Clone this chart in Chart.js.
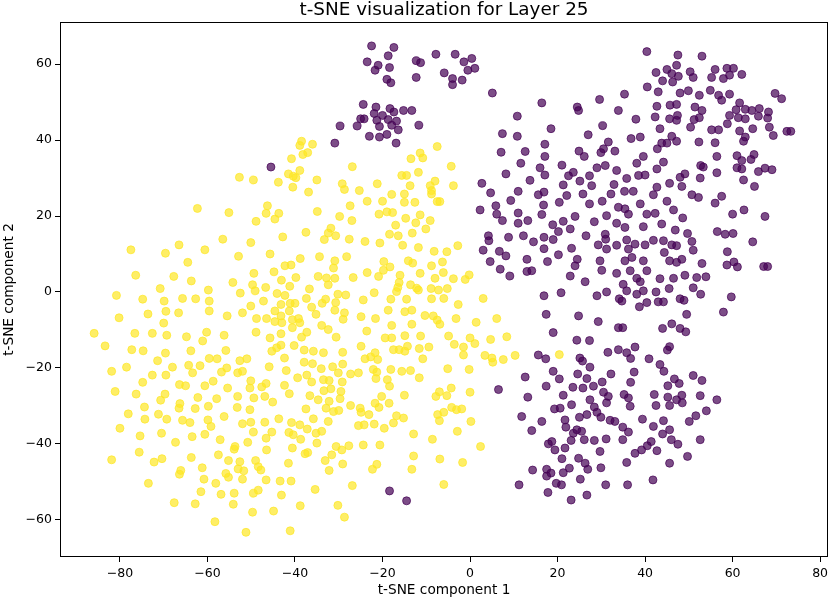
<!DOCTYPE html>
<html lang="en">
<head>
<meta charset="UTF-8">
<title>t-SNE visualization for Layer 25</title>
<script src="https://cdn.jsdelivr.net/npm/chart.js@4"></script>
<style>
  body { margin: 0; background: #fff; }
  canvas { display: block; }
</style>
</head>
<body>
<canvas id="tsneChart" width="830" height="599"></canvas>
<script>
// t-SNE points, [component 1, component 2]
// label 0 (purple)
const purpleTop = [
  [-22.5,64.8],[-17.4,64.4],[-23.5,60.6],[-18.7,62.2],[-21.0,59.7],[-21.7,58.4],[-18.4,59.1],[-19.0,56.0],
  [-18.1,55.1],[-12.3,60.9],[-11.3,60.4],[-12.3,56.5],[-7.8,62.6],[-3.4,62.6],[-1.4,60.6],[0.4,61.5],
  [1.1,58.9],[-0.5,58.4],[-5.9,57.7],[-4.0,56.2],[-4.0,54.6],[-1.8,55.8],[5.1,52.4],[-24.4,49.4],
  [-21.5,48.7],[-21.9,47.0],[-20.0,46.5],[-18.3,48.3],[-17.4,47.4],[-15.2,47.8],[-13.3,47.8],[-25.0,45.6],
  [-24.2,45.6],[-21.3,45.2],[-18.7,45.4],[-16.8,45.0],[-25.8,43.7],[-20.7,43.6],[-17.9,43.9],[-16.4,42.7],
  [-11.7,43.9],[-29.7,43.7],[-23.0,41.0],[-20.7,40.8],[-19.0,41.5],[-16.9,39.2],[10.8,46.3],[7.4,41.7],
  [10.8,41.0],[-45.5,32.9],[-30.9,39.2],[-18.4,-52.4],[-14.5,-55.0]
];
const purpleUpper = [
  [40.4,63.3],[40.5,54.0],[16.4,49.8],[24.5,48.7],[24.8,47.8],[29.6,50.7],[35.3,52.1],[33.9,47.8],
  [37.9,45.5],[18.5,43.0],[30.3,43.8],[27.0,41.4],[36.8,40.4],[38.9,40.8],[17.1,38.9],[31.6,39.5],
  [30.5,37.7],[29.9,36.7],[33.1,37.1],[24.9,37.1],[26.1,35.7],[7.1,36.8],[12.6,37.0],[17.1,35.7],
  [39.6,35.7],[11.6,33.9],[38.1,33.9],[16.0,32.7],[21.0,33.4],[29.0,32.7],[30.9,33.3],[33.5,32.0],
  [8.2,31.1],[17.1,30.8],[23.6,31.5],[22.5,30.6],[27.3,30.6],[27.8,28.0],[35.8,29.9],[38.5,30.7],
  [40.0,30.8],[13.7,29.4],[21.3,28.2],[25.1,29.2],[32.9,28.3],[2.7,28.6],[4.7,26.1],[11.0,26.5],
  [15.6,25.6],[16.9,26.3],[22.1,25.4],[25.8,25.8],[32.2,25.8],[35.3,26.5],[37.3,26.5],[9.3,24.1],
  [20.4,23.6],[27.3,23.2],[30.2,23.9],[33.9,22.3],[38.9,23.2],[2.3,21.6],[5.9,22.7],[16.8,22.9],
  [6.1,20.5],[7.4,18.8],[11.0,20.8],[16.4,20.4],[13.2,18.8],[11.0,18.1],[18.9,17.7],[21.3,18.6],
  [24.0,19.9],[28.4,18.5],[31.2,20.1],[35.4,21.9],[36.2,20.5],[40.4,20.5],[33.5,18.1],[35.4,17.0],
  [39.6,17.2],[4.2,14.8],[4.3,13.5],[8.8,14.4],[12.2,14.8],[14.5,13.2],[16.9,14.4],[19.0,13.8],
  [20.2,15.9],[22.9,16.6],[26.5,14.8],[30.9,15.2],[31.0,13.9],[29.3,12.4],[31.2,11.3],[33.5,12.3],
  [35.8,13.7],[37.7,12.6],[40.0,12.4],[3.0,11.0],[6.7,10.7],[8.2,9.5],[16.9,11.4],[23.2,11.5],
  [4.6,8.0],[13.0,8.6],[20.2,9.8],[24.5,8.6],[29.7,8.2],[36.2,11.3],[37.0,9.1],[35.4,8.2],
  [39.6,8.2],[6.9,6.0],[9.1,4.2],[13.0,5.4],[14.1,5.6],[17.7,8.0],[24.0,6.9],[22.9,4.2],
  [30.1,5.7],[33.5,4.9],[36.6,5.6],[40.4,5.6],[26.3,2.7],[35.0,2.0],[38.1,3.6],[38.9,2.7],
  [47.5,62.4],[53.0,62.1],[47.2,59.7],[42.5,57.8],[45.0,58.6],[46.1,57.5],[47.6,56.8],[50.3,58.0],
  [51.0,56.5],[55.2,56.5],[56.0,58.6],[58.7,58.9],[60.2,58.9],[57.9,56.2],[59.3,57.1],[62.1,57.3],
  [44.0,55.6],[46.3,55.3],[43.0,52.7],[48.0,52.4],[49.9,53.0],[52.4,51.8],[54.9,53.1],[56.8,51.8],
  [57.5,50.5],[59.3,52.1],[69.7,52.3],[71.2,50.9],[42.7,48.9],[45.7,49.2],[47.2,49.4],[51.4,48.7],
  [53.0,47.8],[61.6,49.8],[60.8,48.0],[62.9,48.1],[64.4,47.8],[66.1,48.3],[68.2,47.4],[42.3,46.1],
  [45.6,45.6],[47.4,46.5],[47.2,45.2],[51.2,45.4],[52.4,45.9],[59.3,46.5],[58.8,44.3],[61.3,45.9],
  [62.9,45.6],[65.9,46.3],[68.0,45.8],[43.4,43.0],[50.4,43.4],[55.2,42.7],[56.8,42.7],[61.6,42.4],
  [64.6,43.0],[68.4,43.4],[72.4,42.3],[73.3,42.3],[69.3,41.2],[46.1,41.0],[47.2,39.7],[43.8,39.2],
  [62.9,40.8],[62.5,39.7],[42.8,37.7],[45.0,39.2],[52.3,39.5],[56.0,39.3],[56.4,35.7],[61.0,35.9],
  [62.1,34.6],[64.9,36.2],[64.2,34.9],[44.2,34.2],[42.7,32.4],[52.7,33.3],[53.3,32.9],[61.0,32.7],
  [62.1,32.4],[65.9,31.7],[67.4,32.6],[69.0,32.2],[48.0,30.2],[49.1,31.1],[52.6,30.0],[56.4,31.4],
  [62.5,29.5],[45.6,28.6],[48.4,27.8],[65.0,27.8],[42.7,27.6],[41.9,25.6],[50.7,25.6],[52.2,24.9],
  [57.5,25.2],[56.0,23.4],[45.0,23.9],[60.0,20.5],[62.6,21.6],[67.4,19.9],[42.3,20.7],[43.8,17.9],
  [46.5,21.6],[48.6,19.5],[46.9,16.3],[49.7,15.4],[56.5,15.9],[58.3,15.2],[60.1,15.4],[64.6,13.2],
  [41.9,13.6],[44.2,13.5],[46.1,12.4],[47.2,12.2],[50.7,13.3],[51.0,11.0],[44.4,10.4],[58.8,10.6],
  [45.6,8.2],[47.2,7.8],[48.4,8.6],[53.0,7.5],[58.7,7.1],[60.3,7.9],[61.1,6.6],[67.1,6.7],
  [68.0,6.7],[43.4,3.5],[46.5,3.6],[49.1,4.4],[51.8,3.8],[53.9,4.0]
];
const purpleLower = [
  [16.9,-1.0],[20.8,-0.2],[29.0,-1.0],[31.2,0.0],[34.1,-1.8],[34.7,-2.4],[35.8,0.3],[38.1,-0.6],
  [38.7,-3.9],[17.4,-5.9],[24.8,-6.3],[29.3,-7.8],[33.9,-9.4],[34.9,-9.4],[19.0,-10.7],[24.4,-12.7],
  [27.3,-12.8],[15.6,-16.6],[17.3,-17.6],[25.1,-17.4],[25.7,-18.2],[27.4,-19.8],[31.5,-15.9],[33.9,-15.2],
  [35.8,-16.0],[36.7,-17.5],[37.7,-14.5],[12.6,-22.4],[19.0,-20.9],[20.4,-22.9],[24.6,-21.6],[26.7,-22.8],
  [32.2,-21.6],[37.5,-21.1],[6.5,-25.7],[17.4,-24.8],[23.5,-25.1],[25.8,-25.3],[28.2,-24.8],[30.2,-23.7],
  [36.7,-23.8],[13.2,-27.7],[21.3,-27.2],[27.4,-28.4],[30.5,-26.4],[31.6,-27.5],[31.2,-29.2],[35.2,-27.0],
  [36.2,-27.9],[36.6,-30.1],[19.3,-30.8],[20.6,-30.6],[23.2,-29.7],[28.4,-30.3],[29.0,-31.7],[11.8,-32.8],
  [16.4,-34.1],[21.7,-33.7],[25.0,-33.0],[26.7,-32.3],[29.9,-33.0],[32.0,-33.8],[33.1,-34.1],[34.9,-35.6],
  [36.2,-36.9],[14.1,-36.5],[21.9,-35.6],[23.6,-37.2],[24.4,-36.3],[25.5,-36.7],[26.1,-38.9],[23.1,-39.1],
  [28.4,-39.1],[31.1,-38.7],[34.9,-38.9],[17.9,-40.0],[18.7,-39.4],[19.4,-41.6],[21.7,-41.1],[21.0,-43.9],
  [24.8,-43.8],[26.3,-45.1],[29.7,-42.0],[35.8,-44.9],[37.7,-42.5],[14.3,-46.9],[17.5,-46.7],[18.5,-47.7],
  [21.3,-47.6],[22.7,-46.4],[26.9,-46.7],[29.9,-46.3],[17.5,-48.5],[19.7,-50.4],[20.9,-50.8],[25.2,-49.3],
  [11.2,-50.8],[17.8,-52.8],[23.1,-54.8],[26.7,-53.5],[31.0,-50.8],[36.0,-50.8],
  [39.6,0.3],[42.5,0.0],[45.5,0.9],[51.0,1.1],[52.7,-0.6],[59.7,-1.3],[40.4,-2.8],[43.0,-2.6],
  [44.2,-2.6],[48.0,-1.8],[48.9,-2.2],[49.5,-5.9],[57.9,-5.3],[44.0,-9.6],[46.1,-8.4],[48.0,-9.6],
  [49.3,-10.5],[45.6,-14.4],[45.1,-15.3],[40.9,-17.6],[43.4,-19.1],[44.3,-20.9],[46.7,-22.9],[47.8,-24.1],
  [45.2,-24.7],[51.0,-22.0],[53.0,-23.3],[42.1,-27.0],[45.2,-27.7],[47.2,-28.4],[48.4,-27.2],[48.5,-29.2],
  [45.6,-29.9],[42.5,-29.9],[52.6,-27.3],[56.4,-28.4],[54.0,-31.3],[51.6,-32.6],[50.1,-34.1],[39.4,-33.5],
  [44.2,-33.9],[41.9,-35.4],[45.6,-36.3],[44.0,-37.4],[46.0,-38.9],[47.5,-40.1],[52.6,-38.9],[41.4,-39.4],
  [40.5,-40.5],[39.2,-41.6],[42.7,-41.8],[49.7,-43.3],[45.6,-45.1],[41.8,-49.5]
];
// label 1 (yellow)
const yellowLeft = [
  [-62.3,22.0],[-77.5,11.1],[-69.6,10.2],[-66.5,12.4],[-60.6,11.1],[-64.5,7.8],[-76.4,4.4],[-67.7,4.1],
  [-63.7,2.9],[-70.8,0.9],[-59.8,0.5],[-80.8,-0.9],[-74.8,-1.9],[-69.9,-2.4],[-65.7,-1.7],[-62.7,-1.8],
  [-59.6,-2.4],[-80.2,-6.8],[-73.6,-5.8],[-69.5,-5.1],[-66.6,-5.5],[-59.6,-5.0],[-70.0,-8.2],[-85.9,-10.9],
  [-76.6,-10.9],[-72.6,-10.9],[-69.3,-11.4],[-64.8,-11.8],[-60.2,-10.6],[-61.1,-12.9],[-83.4,-14.2],[-77.3,-15.2],
  [-74.7,-15.5],[-69.6,-16.1],[-63.8,-15.5],[-59.6,-17.5],[-71.4,-18.1],[-68.0,-19.8],[-64.3,-19.3],[-61.7,-19.4],
  [-81.9,-20.9],[-78.5,-19.8],[-72.6,-21.9],[-69.5,-21.9],[-63.4,-21.3],
  [-74.8,-23.8],[-81.1,-26.2],[-76.3,-26.9],[-69.7,-26.9],[-70.7,-28.5],[-66.4,-24.4],[-65.0,-24.7],[-60.6,-24.7],
  [-62.2,-27.8],[-74.4,-30.3],[-66.3,-29.4],[-66.5,-30.6],[-62.8,-30.7],[-59.8,-30.1],[-78.1,-32.1],[-71.2,-32.2],
  [-74.3,-33.5],[-69.3,-33.5],[-65.7,-33.8],[-64.0,-34.4],[-59.9,-33.7],[-80.0,-35.9],[-75.4,-37.9],[-70.5,-37.2],
  [-67.3,-39.6],[-63.5,-38.1],[-60.6,-37.5],[-75.6,-42.2],[-81.9,-44.2],[-72.2,-44.8],[-70.4,-43.9],[-63.7,-43.6],
  [-66.1,-47.0],[-66.4,-48.0],[-61.2,-46.3],[-60.8,-49.3],[-73.5,-50.4],[-61.5,-52.6],[-67.6,-55.5],[-62.8,-55.8]
];
const yellowCenter = [
  [-38.5,39.7],[-38.9,38.6],[-36.0,38.9],[-38.2,36.2],[-37.1,36.7],[-40.8,35.1],[-52.7,30.2],[-49.5,29.5],
  [-43.8,28.9],[-41.5,31.1],[-40.4,30.5],[-39.8,30.1],[-38.9,32.0],[-40.5,27.6],[-35.0,29.5],[-36.9,26.3],
  [-26.9,33.0],[-29.2,28.5],[-28.7,27.0],[-55.1,20.9],[-46.3,22.7],[-46.6,20.7],[-43.7,20.7],[-44.6,19.2],
  [-48.9,18.6],[-34.9,21.2],[-29.8,19.9],[-27.4,22.7],[-27.0,18.8],[-56.5,13.9],[-50.1,13.0],[-42.8,14.5],
  [-37.5,15.7],[-31.8,16.8],[-32.4,15.5],[-30.7,14.8],[-33.3,13.8],[-27.6,13.9],[-52.9,9.4],[-45.7,10.0],
  [-38.8,8.8],[-34.4,9.3],[-30.9,8.2],[-28.2,9.3],[-49.4,4.9],[-44.8,5.3],[-42.3,6.9],[-40.9,7.1],
  [-39.8,3.8],[-43.1,3.1],[-31.2,6.3],[-34.7,4.1],[-32.8,3.7],[-30.9,3.6],[-26.7,3.8],[-54.2,2.5],
  [-49.7,1.9],[-49.1,0.3],[-46.7,1.2],[-41.2,1.5],[-36.7,0.8],[-32.4,1.9],[-52.5,-0.3],[-44.1,-0.4],
  [-42.3,-0.9],[-37.4,-1.7],[-47.2,-2.4],[-43.2,-3.3],[-41.1,-3.0],[-40.0,-3.0],[-33.8,-3.0],[-33.0,-1.9],
  [-30.7,-2.8],[-30.2,-0.6],[-28.4,-0.8],[-50.1,-3.7],[-52.0,-5.5],[-44.6,-5.0],[-41.3,-5.0],[-36.2,-4.0],
  [-35.2,-5.9],[-30.9,-4.8],[-28.7,-5.5],[-55.5,-6.3],[-48.8,-7.0],[-46.5,-7.0],[-44.6,-7.8],[-43.2,-6.3],
  [-43.0,-8.1],[-40.6,-7.3],[-39.2,-7.0],[-38.9,-8.1],[-40.6,-9.4],[-29.0,-7.2],[-33.9,-8.8],[-32.4,-9.9],
  [-56.2,-11.4],[-48.9,-10.6],[-43.2,-11.0],[-37.3,-10.6],[-38.5,-11.9],[-30.6,-11.9],[-45.7,-12.1],
  [-55.8,-15.4],[-57.8,-17.6],[-52.6,-18.1],[-51.0,-17.6],[-56.8,-21.1],[-55.6,-20.0],[-53.1,-21.3],[-52.0,-20.9],
  [-58.7,-23.5],[-55.4,-25.3],[-50.1,-23.4],[-50.3,-25.3],[-47.6,-25.0],[-46.6,-24.1],[-57.9,-28.1],[-53.1,-27.5],
  [-49.4,-27.9],[-46.9,-27.5],[-45.1,-29.0],[-53.2,-30.4],[-50.3,-31.0],[-56.2,-32.8],[-59.2,-35.4],[-52.0,-34.7],
  [-50.1,-34.3],[-46.9,-34.3],[-43.7,-33.4],[-49.5,-36.9],[-45.3,-36.9],[-46.6,-38.5],[-57.1,-38.9],[-50.8,-39.6],
  [-53.7,-40.7],[-53.9,-41.4],[-46.5,-41.6],[-57.5,-42.9],[-55.2,-44.4],[-52.6,-44.7],[-49.0,-44.4],[-48.4,-46.0],
  [-47.8,-46.9],[-53.0,-46.6],[-51.7,-47.1],[-55.8,-47.8],[-55.2,-48.8],[-52.0,-49.3],[-58.1,-50.4],[-46.6,-49.5],
  [-43.4,-49.8],[-40.9,-49.8],[-56.9,-53.3],[-53.9,-53.0],[-49.5,-53.0],[-48.4,-52.2],[-43.1,-53.5],[-54.1,-55.9],
  [-49.7,-58.0],[-44.9,-57.7],[-38.8,-56.3],[-58.3,-60.5],[-51.2,-63.3],[-41.1,-62.9],[-35.4,-52.0],[-30.2,-56.2],
  [-28.7,-59.3],[-26.9,-51.0],[-45.9,-19.7],[-42.0,-20.7],[-42.4,-17.4],[-45.3,-15.6],[-44.2,-14.7],[-43.2,-14.0],
  [-40.2,-14.1],[-37.9,-15.3],[-35.8,-15.6],[-33.5,-16.0],[-29.1,-15.9],[-37.9,-18.5],[-36.0,-18.9],[-34.0,-20.2],
  [-31.4,-19.7],[-29.1,-19.0],[-30.1,-21.3],[-27.3,-21.6],[-39.4,-22.6],[-37.3,-21.9],[-36.2,-23.7],[-33.5,-23.1],
  [-32.2,-23.3],[-29.2,-23.7],[-42.4,-24.6],[-41.3,-26.8],[-33.4,-26.0],[-31.8,-25.5],[-29.5,-26.2],[-36.6,-27.3],
  [-34.7,-28.4],[-32.2,-28.8],[-29.7,-28.1],[-37.5,-30.8],[-32.9,-30.6],[-31.2,-31.5],[-30.0,-31.2],[-27.3,-29.9],
  [-35.8,-33.4],[-32.4,-34.1],[-40.8,-34.4],[-38.9,-35.0],[-37.2,-36.1],[-41.4,-37.0],[-40.4,-37.6],[-38.7,-38.8],
  [-35.2,-37.2],[-33.9,-36.7],[-35.0,-39.8],[-40.6,-41.1],[-37.7,-42.6],[-37.1,-42.3],[-30.6,-40.7],[-29.3,-41.6],
  [-27.7,-40.5],[-33.1,-44.4],[-31.6,-42.9],[-29.1,-45.3],[-32.2,-47.0],[-41.5,-45.1]
];
const yellowRight = [
  [-7.5,38.3],[-11.4,36.6],[-13.5,35.1],[-10.8,35.3],[-4.3,33.1],[-15.6,30.7],[-14.5,30.7],[-11.8,31.5],
  [-21.2,28.5],[-13.7,28.0],[-9.1,28.0],[-8.0,29.2],[-3.8,28.0],[-25.3,26.7],[-17.9,25.7],[-15.0,25.8],
  [-8.8,26.7],[-8.8,25.8],[-23.5,23.9],[-20.0,23.9],[-15.0,23.6],[-12.6,23.6],[-7.5,23.8],[-6.9,23.8],
  [-20.8,20.5],[-19.0,21.1],[-17.7,20.9],[-14.7,19.4],[-11.4,20.3],[-17.0,17.6],[-12.4,18.2],[-9.1,18.8],
  [-10.1,16.6],[-18.4,15.2],[-16.4,14.8],[-13.2,15.5],[-24.0,13.3],[-20.6,12.9],[-15.4,12.3],[-11.8,11.7],
  [-8.2,10.7],[-5.3,10.6],[-2.8,12.2],[-19.7,8.0],[-18.3,6.6],[-19.8,5.7],[-14.1,8.2],[-13.1,7.6],
  [-8.8,6.9],[-6.3,7.9],[-11.4,4.9],[-6.1,5.1],[-23.5,5.1],[-20.9,4.1],[-16.0,4.4],[-16.2,2.5],
  [-16.5,1.2],[-8.0,3.6],[-3.8,3.5],[-1.1,3.3],[-0.2,4.5],[-13.6,1.9],[-11.8,0.5],[-12.2,1.0],
  [-8.9,0.9],[-7.2,0.5],[-5.2,0.9],[-21.9,-0.2],[-16.8,0.1],[-24.4,-2.1],[-18.1,-1.9],[-14.5,-1.9],
  [-8.8,-1.8],[-6.0,-1.7],[-2.7,-3.3],[-18.7,-4.8],[-14.9,-5.2],[-13.3,-4.8],[-10.3,-6.2],[-8.4,-6.3],
  [-7.5,-7.4],[-3.2,-7.0],[1.4,-8.0],[-24.9,-6.5],[-21.6,-7.0],[-17.9,-8.8],[-13.3,-8.5],[-6.9,-8.5],
  [-23.6,-10.3],[-19.4,-12.1],[-17.9,-12.1],[-14.9,-11.5],[-11.3,-11.6],[-4.9,-11.6],[0.0,-12.1],
  [-24.9,-14.3],[-17.5,-15.2],[-16.2,-15.2],[-14.9,-15.6],[-14.3,-14.3],[-11.6,-14.9],[-9.4,-14.5],[-3.6,-13.8],
  [-1.5,-14.5],[1.1,-13.6],[-1.5,-16.6],[-24.0,-17.6],[-22.7,-17.1],[-21.7,-16.0],[-21.1,-17.8],[-10.8,-17.6],
  [-25.5,-21.3],[-22.1,-20.4],[-21.3,-21.1],[-21.5,-22.8],[-18.1,-20.4],[-15.6,-20.9],[-13.6,-20.7],[-11.6,-22.6],
  [-5.1,-20.2],[-0.2,-20.4],[-18.9,-23.1],[-18.4,-24.8],[-15.0,-27.2],[-20.2,-27.5],[-7.0,-26.3],[-7.8,-27.5],
  [-5.3,-27.3],[-4.3,-25.3],[0.0,-26.4],[-25.1,-30.6],[-24.9,-31.7],[-21.7,-29.3],[-20.8,-30.4],[-18.5,-29.3],
  [-23.1,-32.3],[-25.5,-35.2],[-24.2,-35.0],[-21.9,-34.8],[-19.6,-35.9],[-17.5,-34.5],[-16.8,-32.6],[-15.2,-33.2],
  [-7.4,-32.3],[-7.0,-33.9],[-6.0,-31.7],[-4.2,-30.4],[-3.1,-31.0],[-1.9,-30.8],[0.2,-34.1],[-2.9,-36.7],
  [-12.9,-37.4],[-8.6,-38.8],[-24.4,-40.3],[-20.6,-40.3],[-12.9,-43.2],[-6.9,-44.0],[-1.7,-44.9],[-21.3,-45.4],
  [-22.3,-46.7],[-13.3,-46.7],[-6.0,-50.7],
  [3.0,-1.7],[6.1,-7.0],[8.4,-11.8],[4.7,-12.5],[3.4,-16.7],[5.0,-17.4],[5.2,-18.5],[7.6,-17.8],
  [10.3,-16.7],[20.4,-16.5],[2.4,-40.7]
];

const chartTitle = 't-SNE visualization for Layer 25';
const xTicks = [-80, -60, -40, -20, 0, 20, 40, 60, 80];
const yTicks = [-60, -40, -20, 0, 20, 40, 60];
const xTickLabels = ['\u221280', '\u221260', '\u221240', '\u221220', '0', '20', '40', '60', '80'];
const yTickLabels = ['\u221260', '\u221240', '\u221220', '0', '20', '40', '60'];

const toPoints = pairs => pairs.map(p => ({ x: p[0], y: p[1] }));

// matplotlib-like frame, and the title centred over the axes (not the canvas)
const framePlugin = {
    id: 'frame',
    afterDraw(chart) {
        const { ctx, chartArea: a } = chart;
        ctx.save();
        ctx.strokeStyle = '#000';
        ctx.lineWidth = 1;
        ctx.strokeRect(Math.round(a.left) + 0.5, Math.round(a.top) + 0.5,
            Math.round(a.right - a.left) - 1, Math.round(a.bottom - a.top) - 1);
        ctx.fillStyle = '#000';
        ctx.font = '18.4px "DejaVu Sans", sans-serif';
        ctx.textAlign = 'center';
        ctx.textBaseline = 'middle';
        ctx.fillText(chartTitle, (a.left + a.right) / 2, 10.5);
        ctx.restore();
    }
};

Chart.defaults.font.family = '"DejaVu Sans", sans-serif';
Chart.defaults.color = '#000';

const axisGrid = {
    display: true,
    drawOnChartArea: false,
    drawTicks: true,
    tickLength: 5,
    tickColor: '#000',
    tickWidth: 1
};

new Chart(document.getElementById('tsneChart'), {
    type: 'scatter',
    data: {
        datasets: [
            {
                label: '0',
                data: toPoints([].concat(purpleTop, purpleUpper, purpleLower)),
                backgroundColor: 'rgba(68, 1, 84, 0.7)',
                borderColor: 'rgba(68, 1, 84, 0.7)',
                borderWidth: 1,
                pointRadius: 4
            },
            {
                label: '1',
                data: toPoints([].concat(yellowLeft, yellowCenter, yellowRight)),
                backgroundColor: 'rgba(253, 231, 37, 0.7)',
                borderColor: 'rgba(253, 231, 37, 0.7)',
                borderWidth: 1,
                pointRadius: 4
            }
        ]
    },
    options: {
        responsive: false,
        animation: false,
        devicePixelRatio: 1,
        layout: { autoPadding: false, padding: { top: 22, right: 2, bottom: 0, left: 0 } },
        plugins: {
            legend: { display: false },
            tooltip: { enabled: false },
            title: { display: false }
        },
        scales: {
            x: {
                type: 'linear',
                min: -93.7,
                max: 81.8,
                grid: axisGrid,
                border: { display: false },
                afterBuildTicks: s => { s.ticks = xTicks.map(v => ({ value: v })); },
                afterFit: s => { s.height = 42; s.paddingLeft = 0; s.paddingRight = 0; },
                ticks: {
                    autoSkip: false,
                    maxRotation: 0,
                    padding: 0,
                    font: { size: 12.5, lineHeight: 1.84 },
                    callback: v => xTickLabels[xTicks.indexOf(v)]
                },
                title: {
                    display: true,
                    text: 't-SNE component 1',
                    font: { size: 13.7 },
                    padding: { top: 0, bottom: 0 }
                }
            },
            y: {
                type: 'linear',
                min: -69.8,
                max: 71.1,
                grid: axisGrid,
                border: { display: false },
                afterBuildTicks: s => { s.ticks = yTicks.map(v => ({ value: v })); },
                afterFit: s => { s.width = 60; s.paddingTop = 0; s.paddingBottom = 0; },
                ticks: {
                    autoSkip: false,
                    padding: 3,
                    font: { size: 12.5 },
                    callback: v => yTickLabels[yTicks.indexOf(v)]
                },
                title: {
                    display: true,
                    text: 't-SNE component 2',
                    font: { size: 13.7 },
                    padding: { top: 1, bottom: 0 }
                }
            }
        }
    },
    plugins: [framePlugin]
});
</script>
</body>
</html>
